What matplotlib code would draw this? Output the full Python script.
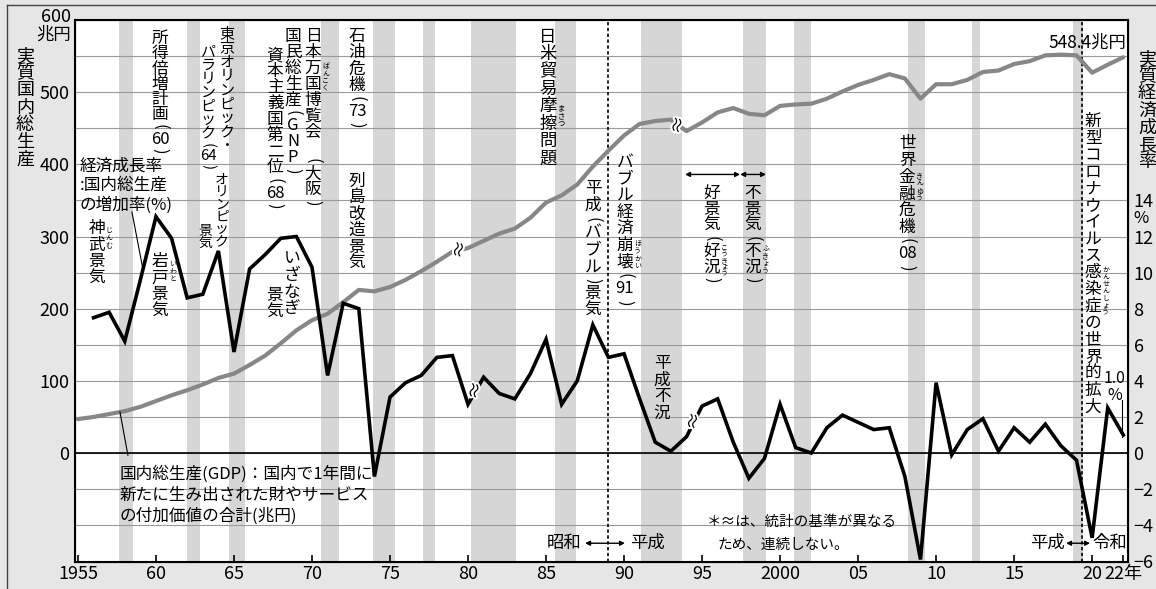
import matplotlib.pyplot as plt
import matplotlib.patheffects as pe
import numpy as np

plt.rcParams['font.family'] = ['Noto Sans CJK JP', 'DejaVu Sans']

# real GDP (trillion yen), 1955-2022 (series breaks after 1979 and 1993)
gdp_years = list(range(1955, 2023))
gdp = [47, 50, 54, 58, 64, 72, 80, 87, 95, 104,
       110, 122, 135, 152, 170, 184, 193, 209, 226, 224,
       230, 240, 252, 265, 279,
       284, 294, 304, 311, 326, 347, 357, 372, 397, 419, 440, 456, 460, 462,
       446, 458, 472, 478, 470, 468, 481, 483, 484, 491, 501, 510, 517, 525,
       519, 491, 511, 511, 517, 528, 530, 539, 543, 551, 552, 551, 527, 538, 548.4]

# real growth rate (%), 1956-2022
growth_years = list(range(1956, 2023))
growth = [7.5, 7.8, 6.2, 9.6, 13.1, 11.9, 8.6, 8.8, 11.2, 5.6,
          10.2, 11.0, 11.9, 12.0, 10.3, 4.3, 8.3, 8.0, -1.3, 3.1,
          3.9, 4.3, 5.3, 5.4, 2.7, 4.2, 3.3, 3.0, 4.4, 6.3,
          2.7, 4.0, 7.1, 5.3, 5.5, 3.0, 0.6, 0.1, 0.9, 2.6,
          3.0, 0.6, -1.4, -0.3, 2.7, 0.3, 0.0, 1.4, 2.1, 1.7,
          1.3, 1.4, -1.3, -5.9, 3.9, -0.1, 1.3, 1.9, 0.1, 1.4,
          0.6, 1.6, 0.4, -0.4, -4.7, 2.5, 1.0]

# recession periods (shaded)
recessions = [(1957.6, 1958.5), (1962.0, 1962.8), (1964.7, 1965.7), (1970.6, 1971.7),
              (1973.9, 1975.3), (1977.1, 1977.9), (1980.2, 1983.1), (1985.6, 1986.9),
              (1991.1, 1993.7), (1997.6, 1999.1), (2000.9, 2002.0), (2008.2, 2009.3),
              (2012.3, 2012.8), (2018.8, 2019.4)]

xtick_pos = [1955, 1960, 1965, 1970, 1975, 1980, 1985, 1990, 1995, 2000, 2005, 2010, 2015, 2020, 2022]
xtick_labels = ['1955', '60', '65', '70', '75', '80', '85', '90', '95', '2000', '05', '10', '15', '20', '22年']
rate_ticks = list(range(-6, 15, 2))

fig = plt.figure(figsize=(11.56, 5.89), dpi=100, facecolor='#e6e6e6')
ax = fig.add_axes([75 / 1156, 1 - 562 / 589, (1128 - 75) / 1156, (562 - 20) / 589])
ax.set_facecolor('white')
ax.set_xlim(1954.81, 2022.3)
ax.set_ylim(-151, 600)
ax2 = ax.twinx()
ax2.set_ylim(-151 / 25, 600 / 25)

for a, b in recessions:
    ax.axvspan(a, b, color='#d6d6d6', lw=0, zorder=0.5)

ax.set_yticks(range(0, 501, 100))
ax.set_yticks(range(-100, 551, 50), minor=True)
ax.grid(axis='y', which='both', color='#9a9a9a', lw=0.8, zorder=1)
ax.axhline(0, color='black', lw=1.2, zorder=2)
ax.tick_params(axis='y', which='both', length=0, pad=4, labelsize=13)
ax.set_xticks(xtick_pos)
ax.set_xticklabels(xtick_labels)
ax.tick_params(axis='x', direction='in', length=5, width=1.2, pad=2, labelsize=13)
for s in ax.spines.values():
    s.set_linewidth(1.5)

ax2.set_yticks(rate_ticks)
ax2.set_yticklabels([str(v).replace('-', '\u2212') for v in rate_ticks])
ax2.tick_params(axis='y', length=0, pad=4, labelsize=13)
ax2.annotate('%', xy=(1, 13), xycoords=ax2.get_yaxis_transform(), xytext=(4, 0),
             textcoords='offset points', ha='left', va='center', fontsize=12)

# era boundaries
ax.axvline(1989.0, color='black', ls=(0, (2, 1.5)), lw=1.2, zorder=2)
ax.axvline(2019.35, color='black', ls=(0, (2, 1.5)), lw=1.2, zorder=2)

ax.plot(gdp_years, gdp, color='#878787', lw=3.0, zorder=3, solid_capstyle='round')
ax2.plot(growth_years, growth, color='black', lw=2.6, zorder=4, solid_joinstyle='miter')


def break_mark(a, x, xs, ys):
    y = np.interp(x, xs, ys)
    a.text(x, y, '≈', rotation=75, ha='center', va='center', fontsize=13, zorder=6,
           path_effects=[pe.withStroke(linewidth=3, foreground='white')])


break_mark(ax, 1979.5, gdp_years, gdp)
break_mark(ax, 1993.5, gdp_years, gdp)
break_mark(ax2, 1980.5, growth_years, growth)
break_mark(ax2, 1994.5, growth_years, growth)


def tok(s):
    out = []
    for ch in s:
        if ch.isdigit() and out and out[-1].isdigit():
            out[-1] += ch
        else:
            out.append(ch)
    return out


def vtext(a, x, y, s, size=12, pitch=11.5, ruby=None, coords='data'):
    # vertical Japanese text: one character per row
    tokens = tok(s)
    off = 0.0
    tops = []
    for t in tokens:
        tops.append(off)
        if t in '()':
            cell = pitch * 0.6
            a.annotate(t, xy=(x, y), xycoords=coords, xytext=(0, -off - cell * 0.55),
                       textcoords='offset points', ha='center', va='center', rotation=-90,
                       fontsize=size, zorder=7)
            off += cell
        else:
            a.annotate(t, xy=(x, y), xycoords=coords, xytext=(0, -off),
                       textcoords='offset points', ha='center', va='top', fontsize=size, zorder=7)
            off += pitch
    if ruby:
        for (i0, i1), r in ruby.items():
            span = (i1 - i0 + 1) * pitch
            rp = min(span / len(r), size * 0.45)
            start = -tops[i0] - (span - rp * len(r)) / 2 - 1
            for k, ch in enumerate(r):
                a.annotate(ch, xy=(x, y), xycoords=coords,
                           xytext=(size * 0.55, start - k * rp), textcoords='offset points',
                           ha='left', va='top', fontsize=size * 0.42, zorder=7)


vtext(ax, 1960.26, 586, '所得倍増計画(60)', pitch=11)
vtext(ax, 1964.55, 589, '東京オリンピック・', size=10.8, pitch=10)
vtext(ax, 1963.33, 565, 'パラリンピック(64)', size=10.8, pitch=9.8)
vtext(ax, 1970.06, 589, '日本万国博覧会 (大阪)', pitch=11.5, ruby={(2, 3): 'ばんこく'})
vtext(ax, 1968.78, 589, '国民総生産(GNP)', pitch=11.5)
vtext(ax, 1967.63, 562, '資本主義国第二位(68)', pitch=11.5)
vtext(ax, 1972.88, 589, '石油危機(73)', pitch=11.8)
vtext(ax, 1972.88, 388, '列島改造景気', pitch=11.8)
vtext(ax, 1956.2, 323, '神武景気', pitch=12, ruby={(0, 1): 'じんむ'})
vtext(ax, 1960.26, 277, '岩戸景気', pitch=12, ruby={(0, 1): 'いわと'})
vtext(ax, 1964.23, 388, 'オリンピック', size=10, pitch=8.8)
vtext(ax, 1963.14, 318, '景気', size=10, pitch=8.8)
vtext(ax, 1968.72, 281, 'いざなぎ', pitch=12)
vtext(ax, 1967.63, 230, '景気', pitch=12)
vtext(ax, 1985.13, 589, '日米貿易摩擦問題', size=12.5, pitch=12.5, ruby={(4, 5): 'まさつ'})
vtext(ax, 1990.06, 415, 'バブル経済崩壊(91)', pitch=12, ruby={(5, 6): 'ほうかい'})
vtext(ax, 1988.01, 378, '平成(バブル)景気', pitch=12.2)
vtext(ax, 1992.44, 136, '平成不況', pitch=12)
vtext(ax, 1995.64, 371, '好景気(好況)', pitch=11.5, ruby={(4, 5): 'こうきょう'})
vtext(ax, 1998.27, 371, '不景気(不況)', pitch=11.5, ruby={(4, 5): 'ふきょう'})
vtext(ax, 2008.14, 440, '世界金融危機(08)', pitch=12, ruby={(2, 3): 'きんゆう'})
vtext(ax, 2020.06, 471, '新型コロナウイルス感染症の世界的拡大', pitch=12.1,
      ruby={(9, 11): 'かんせんしょう'})

# axis titles
vtext(ax, 25, 542, '実質国内総生産', size=13, pitch=12.4, coords='figure pixels')
vtext(ax, 1147, 539, '実質経済成長率', size=13, pitch=12.4, coords='figure pixels')
fig.text(71 / 1156, 1 - 17 / 589, '600', ha='right', va='center', fontsize=13)
fig.text(71 / 1156, 1 - 35 / 589, '兆円', ha='right', va='center', fontsize=12.5)

# horizontal notes
ax.text(1955.13, 410, '経済成長率\n:国内総生産\nの増加率(%)', ha='left', va='top',
        fontsize=12, linespacing=1.2, zorder=7)
ax.plot([1958.46, 1959.17], [334, 254], color='black', lw=0.8, zorder=7)
ax.text(1957.69, -17, '国内総生産(GDP)：国内で1年間に\n新たに生み出された財やサービス\nの付加価値の合計(兆円)',
        ha='left', va='top', fontsize=12, linespacing=1.3, zorder=7)
ax.plot([1957.69, 1958.2], [57, -3], color='black', lw=0.8, zorder=7)

arrow = dict(arrowstyle='<|-|>', lw=1, color='black', shrinkA=0, shrinkB=0, mutation_scale=7)
ax.annotate('', xy=(1997.44, 386), xytext=(1993.91, 386), arrowprops=arrow, zorder=7)
ax.annotate('', xy=(1999.1, 386), xytext=(1997.44, 386), arrowprops=arrow, zorder=7)

ax.text(1987.3, -125, '昭和', ha='right', va='center', fontsize=12.5, zorder=7)
ax.annotate('', xy=(1990.06, -125), xytext=(1987.5, -125), arrowprops=arrow, zorder=7)
ax.text(1990.38, -125, '平成', ha='left', va='center', fontsize=12.5, zorder=7)
ax.text(2018.27, -125, '平成', ha='right', va='center', fontsize=12.5, zorder=7)
ax.annotate('', xy=(2019.87, -125), xytext=(2018.33, -125), arrowprops=arrow, zorder=7)
ax.text(2020.0, -125, '令和', ha='left', va='center', fontsize=12.5, zorder=7)

ax.text(1995.3, -96, '＊≈は、統計の基準が異なる', ha='left', va='center', fontsize=10.5, zorder=7)
ax.text(1996.0, -127, 'ため、連続しない。', ha='left', va='center', fontsize=10.5, zorder=7)

ax.text(2022.2, 569, '548.4兆円', ha='right', va='center', fontsize=12.5, zorder=7)
ax.text(2021.45, 92, '1.0\n%', ha='center', va='center', fontsize=11.5, linespacing=1.0, zorder=7)
ax.plot([2021.92, 2021.92], [73, 22], color='black', lw=0.8, zorder=7)

# page frame
fig.add_artist(plt.Line2D([7 / 1156, 7 / 1156], [0, 1 - 5 / 589], color='#444444', lw=1.0))
fig.add_artist(plt.Line2D([7 / 1156, 1], [1 - 5 / 589, 1 - 5 / 589], color='#444444', lw=1.0))

fig.savefig('out.png', dpi=100, facecolor=fig.get_facecolor())
